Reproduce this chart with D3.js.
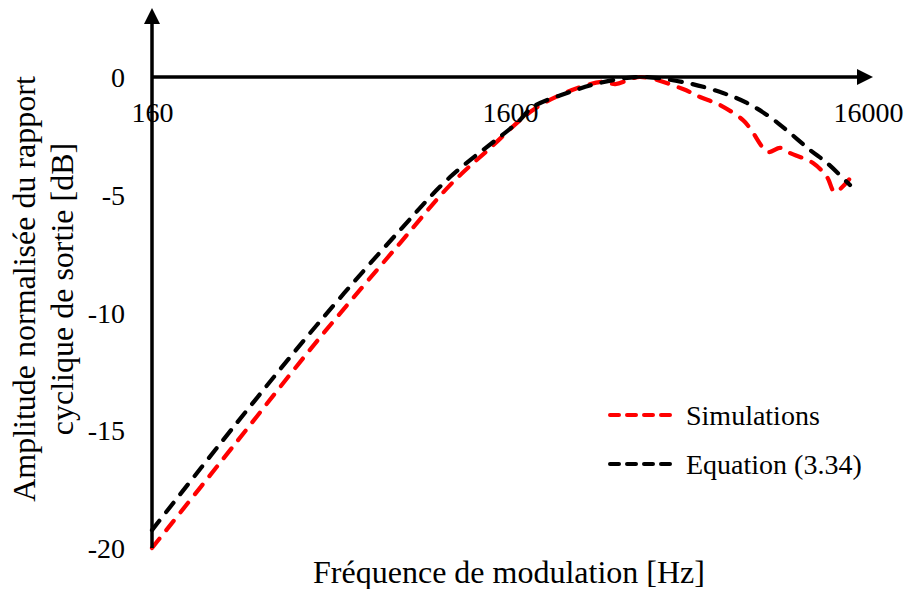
<!DOCTYPE html>
<html><head><meta charset="utf-8">
<script src="https://cdn.jsdelivr.net/npm/d3@7"></script>
<style>body{margin:0;background:#fff}svg{display:block}text{font-family:"Liberation Serif","Times New Roman",serif;fill:#000}</style>
</head><body>
<svg id="c" width="911" height="589"></svg>
<script>
const xTicks = [160, 1600, 16000];
const yTicks = [0, -5, -10, -15, -20];
const simFreq = [160, 273, 465, 789, 1088, 1400, 1855, 2309, 2900, 3150, 3691, 4867, 5430, 6178, 7161, 7491, 8409, 9088, 9690, 11234, 12293, 12939, 14717];
const simDb   = [-20.0, -15.58, -11.17, -7.05, -4.59, -3.05, -1.4, -0.64, -0.2, -0.3, 0, -0.51, -0.85, -1.19, -1.83, -2.17, -3.18, -3.01, -3.23, -3.65, -4.25, -4.88, -4.03];
const eqFreq = [160, 273, 462, 789, 1088, 1674, 1855, 2309, 2855, 3691, 4996, 6297, 7347, 8518, 9690, 11019, 12293, 14250];
const eqDb   = [-19.24, -14.78, -10.53, -6.5, -4.25, -1.95, -1.27, -0.68, -0.25, 0, -0.25, -0.68, -1.1, -1.7, -2.38, -3.1, -3.65, -4.59];
const seriesNames = ["Simulations", "Equation (3.34)"];

const svg = d3.select("#c");
const x = d3.scaleLog().domain([160, 16000]).range([152, 868]);
const y = d3.scaleLinear().domain([-20, 0]).range([548, 77]);

const line = d3.line().x(d => x(d[0])).y(d => y(d[1])).curve(d3.curveCatmullRom.alpha(0.5));
const sim = simFreq.map((f, i) => [f, simDb[i]]);
const eq = eqFreq.map((f, i) => [f, eqDb[i]]);

svg.append("path").attr("d", line(sim)).attr("fill", "none").attr("stroke", "#ff0000")
  .attr("stroke-width", 4.2).attr("stroke-dasharray", "12,11").attr("stroke-linecap", "round");
svg.append("path").attr("d", line(eq)).attr("fill", "none").attr("stroke", "#000")
  .attr("stroke-width", 4.2).attr("stroke-dasharray", "12,11").attr("stroke-linecap", "round");

// axes lines with arrows
svg.append("line").attr("x1", x(160)).attr("x2", 860).attr("y1", y(0)).attr("y2", y(0))
  .attr("stroke", "#000").attr("stroke-width", 3.5);
svg.append("path").attr("d", `M873,${y(0)} L857,${y(0)-8} L857,${y(0)+8} Z`).attr("fill", "#000");
svg.append("line").attr("x1", x(160)).attr("x2", x(160)).attr("y1", y(-20)).attr("y2", 20)
  .attr("stroke", "#000").attr("stroke-width", 3.5);
svg.append("path").attr("d", `M${x(160)},8 L${x(160)-8},24 L${x(160)+8},24 Z`).attr("fill", "#000");

const ff = '"Liberation Serif","Times New Roman",serif';
const xAxis = d3.axisBottom(x).tickValues(xTicks).tickFormat(d => String(d)).tickSize(0).tickPadding(0);
const gx = svg.append("g").attr("transform", `translate(0,${y(0)})`).call(xAxis);
gx.select(".domain").remove();
gx.selectAll("text").attr("y", 45).attr("dy", null).style("font-size", "28px")
  .style("font-family", ff).attr("fill", "#000");

const yAxis = d3.axisLeft(y).tickValues(yTicks).tickFormat(d => String(d)).tickSize(0).tickPadding(0);
const gy = svg.append("g").attr("transform", `translate(125,0)`).call(yAxis);
gy.select(".domain").remove();
gy.selectAll("text").attr("x", 0).attr("dy", "0.34em").style("font-size", "28px")
  .style("font-family", ff).attr("fill", "#000");

svg.append("text").attr("x", 509).attr("y", 583).attr("text-anchor", "middle")
  .style("font-size", "32px").text("Fréquence de modulation [Hz]");
const yt = svg.append("text").attr("transform", "translate(0,289) rotate(-90)").attr("text-anchor", "middle")
  .style("font-size", "32px");
yt.append("tspan").attr("x", 0).attr("y", 35).text("Amplitude normalisée du rapport");
yt.append("tspan").attr("x", 0).attr("y", 73).text("cyclique de sortie [dB]");

const legY = [415, 464];
const legCol = ["#ff0000", "#000"];
seriesNames.forEach((n, i) => {
  svg.append("line").attr("x1", 610).attr("x2", 676).attr("y1", legY[i]).attr("y2", legY[i])
    .attr("stroke", legCol[i]).attr("stroke-width", 4).attr("stroke-dasharray", "9,8").attr("stroke-linecap", "round");
  svg.append("text").attr("x", 686).attr("y", legY[i] + 10).style("font-size", "28px").text(n);
});
</script>
</body></html>
